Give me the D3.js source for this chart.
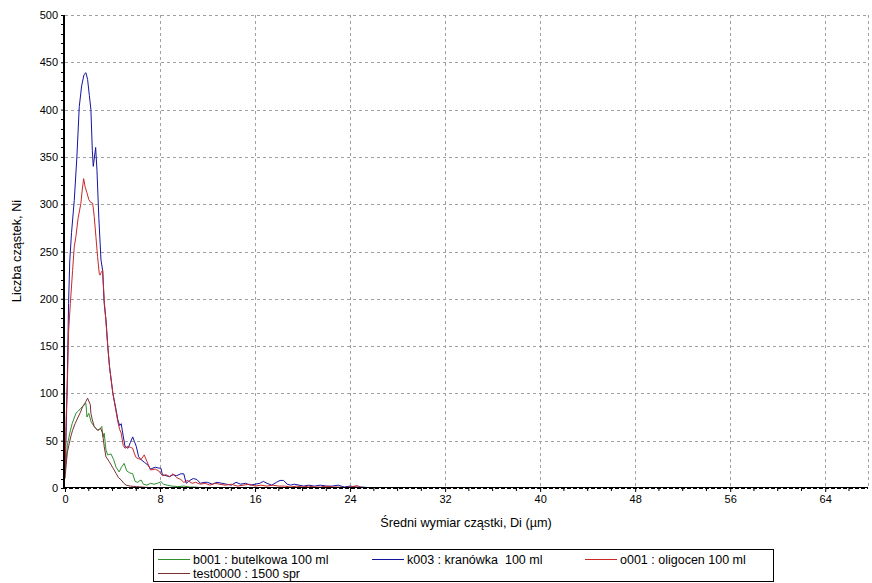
<!DOCTYPE html>
<html><head><meta charset="utf-8">
<script src="https://cdn.jsdelivr.net/npm/d3@7"></script>
<style>body{margin:0;background:#fff}svg text{font-family:"Liberation Sans",Arial,sans-serif;white-space:pre}</style>
</head><body><svg id="c" width="872" height="583"></svg>
<script>
const xTicks=[0,8,16,24,32,40,48,56,64];
const yTicks=[0,50,100,150,200,250,300,350,400,450,500];
const seriesNames=["b001 : butelkowa 100 ml","k003 : kranówka  100 ml","o001 : oligocen 100 ml","test0000 : 1500 spr"];
const seriesColors=["#2f8f2f","#1414a0","#c82828","#7a3030"];
const greenX=[0,0.1,0.2,0.4,0.6,0.92,1.1,1.3,1.48,1.76,1.85,2.0,2.2,2.4,2.6,2.75,3.0,3.1,3.2,3.3,3.45,3.6,3.87,4.1,4.3,4.56,4.75,4.98,5.2,5.45,5.7,5.9,6.1,6.4,6.6,6.9,7.2,7.5,7.8,8.07,8.3,8.6,9,9.5,10,10.5,11,11.3,12];
const greenY=[15,30,45,58,68,79,81,84,86,89.5,75,79,70,66,63,61,63,65,54,58,40,35,36,30,22,17,22,26,18,16,15,7,6,8.5,4,3,5,4,5,6.7,4,3,2,1.5,2,1,1,0.5,0];
const blueX=[0,0.1,0.2,0.3,0.4,0.55,0.78,1.0,1.2,1.4,1.6,1.76,1.9,2.05,2.18,2.3,2.38,2.5,2.58,2.69,2.85,3.03,3.17,3.3,3.45,3.6,3.75,4.03,4.31,4.45,4.6,4.73,4.9,5.05,5.3,5.5,5.7,5.85,6.0,6.2,6.4,6.7,7.0,7.2,7.6,7.9,8.07,8.2,8.5,8.8,9.1,9.4,9.75,10.0,10.2,10.5,10.8,11.1,11.4,11.7,12.0,12.4,12.8,13.2,13.6,14.0,14.4,14.8,15.2,15.6,16.0,16.4,16.7,17.0,17.4,17.8,18.1,18.4,18.7,19.0,19.3,19.7,20.1,20.5,21.0,21.5,22.0,22.5,23.0,23.5,24.0,24.5,25.0,25.5,26];
const blueY=[20,60,120,195,240,270,304,350,403,425,437,439,432,415,400,357,340,352,360,336,285,241,230,195,178,150,128,100,82,72,66,68,55,44,42,48,54,49,44,33,30,27,24,20,22,21,21,14,13,12,14,13,15,15,5,8,10,9,5,6,6,4,6,5,4,3,6,4,5,3,4,5,7,5,3,6,8,8,4,3,4,3,2,3,2,3,2,2,3,1,2,1,1,0.5,0];
const redX=[0,0.1,0.2,0.3,0.45,0.64,0.78,0.92,1.1,1.34,1.45,1.57,1.7,1.85,2.0,2.15,2.33,2.46,2.6,2.74,2.88,2.95,3.05,3.17,3.3,3.45,3.6,3.75,4.03,4.31,4.45,4.6,4.73,4.9,5.05,5.3,5.5,5.7,5.85,6.0,6.2,6.4,6.67,6.9,7.2,7.6,7.9,8.2,8.5,8.8,9.1,9.4,9.75,10.0,10.3,10.7,11.0,11.4,11.8,12.2,12.6,13.0,13.5,14.0,14.5,15.0,15.5,16.0,16.5,17.0,17.5,18.0,18.5,19.0,19.5,20.0,20.5,21.0,21.5,22.0,22.5,23.0,23.5,24.0,24.6,25.0];
const redY=[20,75,110,165,195,230,255,266,285,301,315,327,318,312,305,302,301,287,266,245,227,225,228,230,199,175,150,128,100,80,70,62,58,45,42,44,43,42,36,32,31,30,35,28,19,20,18,13,14,12,15,11,9,6,8,5,6,4,5,3,5,4,3,4,2,3,4,2,3,2,3,2,2,1,2,1,2,1,1,2,1,1,0.5,1,2.5,0];
const brownX=[0,0.1,0.2,0.36,0.5,0.64,0.85,1.07,1.3,1.48,1.7,1.9,2.0,2.13,2.18,2.3,2.46,2.6,2.74,2.9,3.0,3.16,3.3,3.45,3.72,4.0,4.3,4.5,4.73,4.95,5.15,5.5,6,6.5,7,7.5,8];
const brownY=[10,25,38,47,55,61,68,74,80,86,90,95,92,88,79,72,65,63,61,62,63,58,44,33,28,22,15.5,11,8.5,5,3,2,1.5,1,0.5,0.5,0];

const svg=d3.select("#c");
const x=d3.scaleLinear().domain([0,67.6]).range([65,868]);
const y=d3.scaleLinear().domain([0,500]).range([488,15]);
const grid="#a0a0a0";
// grid
svg.append("g").selectAll("line").data(xTicks.filter(d=>d>0).concat([67.6])).join("line")
  .attr("x1",d=>Math.round(x(d))+0.5).attr("x2",d=>Math.round(x(d))+0.5).attr("y1",15).attr("y2",488)
  .attr("stroke",grid).attr("stroke-dasharray","3,3");
svg.append("g").selectAll("line").data(yTicks.filter(d=>d>0)).join("line")
  .attr("y1",d=>Math.round(y(d))+0.5).attr("y2",d=>Math.round(y(d))+0.5).attr("x1",65).attr("x2",868)
  .attr("stroke",grid).attr("stroke-dasharray","3,3");
// series
const sets=[[greenX,greenY],[blueX,blueY],[redX,redY],[brownX,brownY]];
const line=d3.line().x(d=>x(d[0])).y(d=>y(d[1]));
sets.forEach((s,i)=>{
  const pts=s[0].map((v,j)=>[v,s[1][j]]);
  svg.append("path").datum(pts).attr("d",line).attr("fill","none").attr("stroke",seriesColors[i]).attr("stroke-width",1);
});
// axes
const xAxis=svg.append("g").attr("transform","translate(0,488)")
  .call(d3.axisBottom(x).tickValues(xTicks).tickSize(4).tickPadding(3).tickFormat(d3.format("d")));
const yAxis=svg.append("g").attr("transform","translate(65,0)")
  .call(d3.axisLeft(y).tickValues(yTicks).tickSize(4).tickPadding(3).tickFormat(d3.format("d")));
[xAxis,yAxis].forEach(a=>{a.select(".domain").remove();a.selectAll("text").attr("font-size",11).attr("fill","#000").attr("font-family","Liberation Sans, Arial, sans-serif");a.selectAll("line").attr("stroke","#000");});
// minor ticks
svg.append("g").selectAll("line").data(d3.range(0,68,2).filter(d=>d%8)).join("line")
  .attr("x1",d=>x(d)).attr("x2",d=>x(d)).attr("y1",488).attr("y2",491).attr("stroke","#000");
svg.append("g").selectAll("line").data(d3.range(0,501,10).filter(d=>d%50)).join("line")
  .attr("y1",d=>Math.round(y(d))+0.5).attr("y2",d=>Math.round(y(d))+0.5).attr("x1",61).attr("x2",65).attr("stroke","#000");
svg.append("line").attr("x1",64).attr("x2",64).attr("y1",15).attr("y2",489).attr("stroke","#000").attr("stroke-width",2);
svg.append("line").attr("x1",63).attr("x2",868).attr("y1",487.5).attr("y2",487.5).attr("stroke","#000").attr("stroke-width",1);
svg.append("line").attr("x1",63).attr("x2",868).attr("y1",488.5).attr("y2",488.5).attr("stroke","#000").attr("stroke-dasharray","4,2");
// titles
svg.append("text").attr("x",466).attr("y",527).attr("text-anchor","middle").attr("font-size",12.7).text("Średni wymiar cząstki, Di (µm)");
svg.append("text").attr("transform","translate(21,251) rotate(-90)").attr("text-anchor","middle").attr("font-size",12.7).text("Liczba cząstek, Ni");
// legend
svg.append("rect").attr("x",153.5).attr("y",549.5).attr("width",620).attr("height",32).attr("fill","#fff").attr("stroke","#000");
const legPos=[[158,559],[372,559],[585,559],[158,573]];
seriesNames.forEach((n,i)=>{
  const [lx,ly]=legPos[i];
  svg.append("line").attr("x1",lx).attr("x2",lx+32).attr("y1",ly+0.5).attr("y2",ly+0.5).attr("stroke",seriesColors[i]).attr("shape-rendering","crispEdges");
  svg.append("text").attr("x",lx+35).attr("y",ly+4.5).attr("font-size",12.5).text(n);
});
</script></body></html>
